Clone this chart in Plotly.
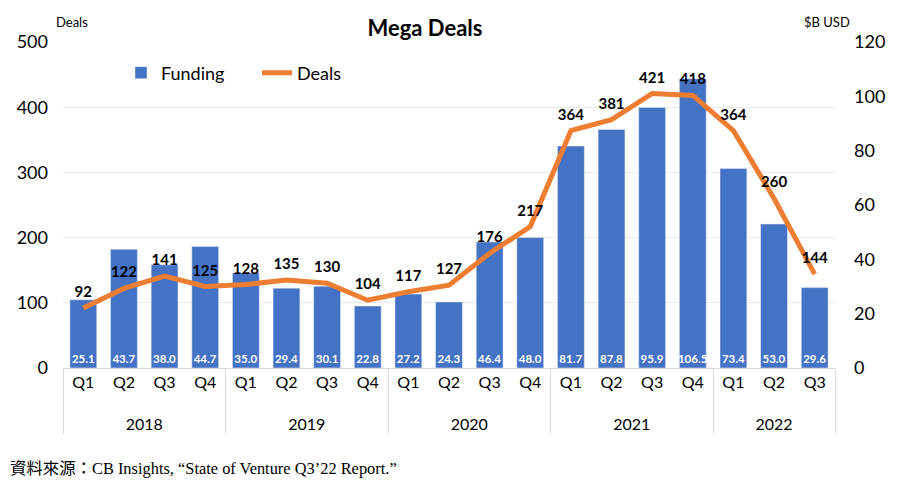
import plotly.graph_objects as go

# 資料 (CB Insights, State of Venture Q3'22)
years = ["2018"] * 4 + ["2019"] * 4 + ["2020"] * 4 + ["2021"] * 4 + ["2022"] * 3
quarters = ["Q1", "Q2", "Q3", "Q4"] * 4 + ["Q1", "Q2", "Q3"]
funding = [25.1, 43.7, 38.0, 44.7, 35.0, 29.4, 30.1, 22.8, 27.2, 24.3,
           46.4, 48.0, 81.7, 87.8, 95.9, 106.5, 73.4, 53.0, 29.6]
deals = [92, 122, 141, 125, 128, 135, 130, 104, 117, 127,
         176, 217, 364, 381, 421, 418, 364, 260, 144]

FONT = "Lato, 'Open Sans', sans-serif"

# page body has an 8px margin, so the figure is drawn 8px smaller and offset
OFF = 8
W, H = 900 - OFF, 492 - OFF
L, R, T, B = 63 - OFF, 65, 42 - OFF, 124
pw, ph = W - L - R, H - T - B

def px(x):
    return (x - OFF - L) / pw

def py(y):
    return 1 - (y - OFF - T) / ph

# year row pushed down one line like the reference
year_row = ["<br>" + y for y in years]

fig = go.Figure()

fig.add_trace(go.Bar(
    x=[year_row, quarters], y=funding, name="Funding",
    marker=dict(color="#4472C4"),
    texttemplate="%{y:.1f}", textposition="inside", insidetextanchor="start",
    textangle=0, constraintext="none", cliponaxis=False,
    insidetextfont=dict(color="white", size=11.5, family=FONT, weight="bold"),
    yaxis="y",
))

fig.add_trace(go.Scatter(
    x=[year_row, quarters], y=deals, name="Deals", mode="lines+markers+text",
    line=dict(color="#ED7D31", width=5),
    marker=dict(size=10, color="rgba(0,0,0,0)"),
    text=[str(d) for d in deals], textposition="top center",
    textfont=dict(color="black", size=15, family=FONT, weight="bold"),
    yaxis="y2",
))

fig.update_layout(
    width=W, height=H,
    margin=dict(l=L, r=R, t=T, b=B),
    plot_bgcolor="white", paper_bgcolor="white",
    font=dict(family=FONT, color="black"),
    bargap=0.34,
    showlegend=True,
    title=dict(text="<b>Mega Deals</b>", x=(425 - OFF) / W, xanchor="center",
               y=1 - (28 - OFF) / H, yanchor="middle", font=dict(size=22)),
    legend=dict(orientation="h", x=px(121), y=py(73), xanchor="left", yanchor="middle",
                font=dict(size=18), entrywidth=91, entrywidthmode="pixels",
                bgcolor="rgba(0,0,0,0)"),
    xaxis=dict(type="multicategory", range=[-0.5, 18.5], showgrid=False, ticks="",
               automargin=False, tickfont=dict(size=16), showdividers=True,
               dividercolor="#D9D9D9", dividerwidth=1,
               showline=True, linecolor="#D9D9D9"),
    # bars: right axis ($B USD)
    yaxis=dict(side="right", range=[0, 120], dtick=20, showgrid=False,
               zeroline=False, tickfont=dict(size=18), ticks="", automargin=False,
               ticklabelstandoff=18),
    # line: left axis (Deals), drawn on top
    yaxis2=dict(overlaying="y", side="left", range=[0, 500], dtick=100,
                showgrid=True, gridcolor="#EBEBEB", zeroline=False,
                tickfont=dict(size=18), ticks="", automargin=False,
                ticklabelstandoff=14),
    annotations=[
        dict(text="Deals", x=px(72), y=py(22), showarrow=False,
             xanchor="center", yanchor="middle", font=dict(size=13)),
        dict(text="$B USD", x=px(827), y=py(22), showarrow=False,
             xanchor="center", yanchor="middle", font=dict(size=13)),
        dict(text="資料來源：CB Insights, “State of Venture Q3’22 Report.”",
             x=px(OFF), y=py(468), xanchor="left", yanchor="middle", showarrow=False,
             font=dict(size=16.4, family="'Liberation Serif', 'Noto Sans CJK TC', serif")),
    ],
)
for a in fig.layout.annotations:
    a.xref = "paper"
    a.yref = "paper"

fig.write_html("out.html")
